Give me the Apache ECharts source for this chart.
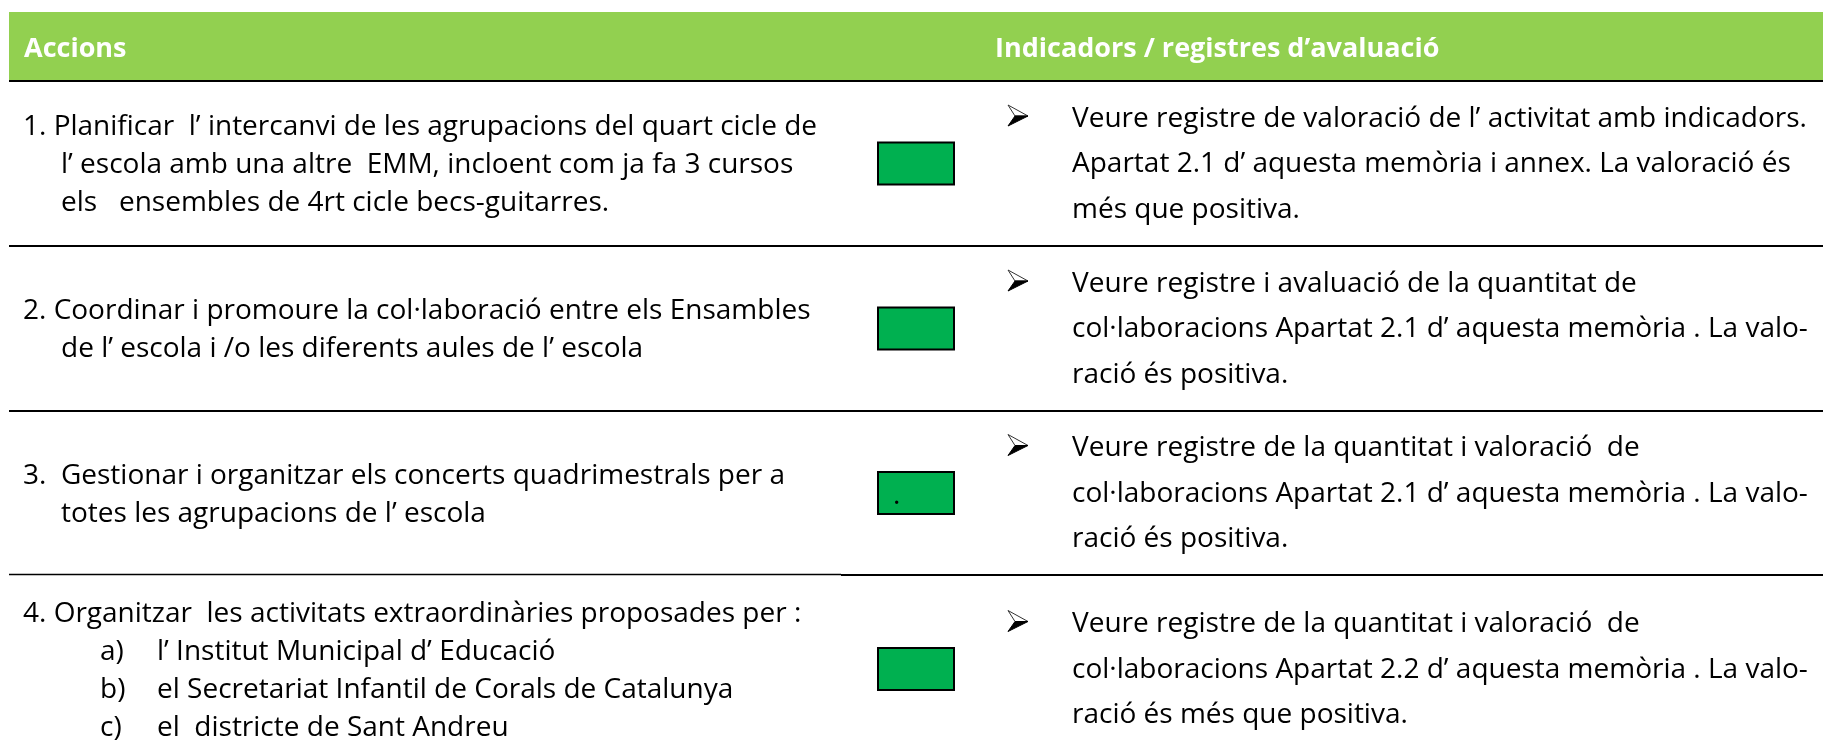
<!DOCTYPE html>
<html>
<head>
<meta charset="utf-8">
<script src="https://cdn.jsdelivr.net/npm/echarts@6/dist/echarts.min.js"></script>
<style>
html,body{margin:0;padding:0;background:#ffffff;}
#chart{width:1823px;height:743px;}
</style>
</head>
<body>
<div id="chart"></div>
<script>
// ---------- data ----------
const headers = ['Accions', 'Indicadors / registres d’avaluació'];

const actionLines = [
  ['1. Planificar  l’ intercanvi de les agrupacions del quart cicle de',
   'l’ escola amb una altre  EMM, incloent com ja fa 3 cursos',
   'els   ensembles de 4rt cicle becs-guitarres.'],
  ['2. Coordinar i promoure la col·laboració entre els Ensambles',
   'de l’ escola i /o les diferents aules de l’ escola'],
  ['3.  Gestionar i organitzar els concerts quadrimestrals per a',
   'totes les agrupacions de l’ escola'],
  ['4. Organitzar  les activitats extraordinàries proposades per :']
];

const actionSubItems = [
  [],
  [],
  [],
  [['a)', 'l’ Institut Municipal d’ Educació'],
   ['b)', 'el Secretariat Infantil de Corals de Catalunya'],
   ['c)', 'el  districte de Sant Andreu']]
];

const indicatorLines = [
  ['Veure registre de valoració de l’ activitat amb indicadors.',
   'Apartat 2.1 d’ aquesta memòria i annex. La valoració és',
   'més que positiva.'],
  ['Veure registre i avaluació de la quantitat de',
   'col·laboracions Apartat 2.1 d’ aquesta memòria . La valo-',
   'ració és positiva.'],
  ['Veure registre de la quantitat i valoració  de',
   'col·laboracions Apartat 2.1 d’ aquesta memòria . La valo-',
   'ració és positiva.'],
  ['Veure registre de la quantitat i valoració  de',
   'col·laboracions Apartat 2.2 d’ aquesta memòria . La valo-',
   'ració és més que positiva.']
];

const statusValues = ['assolit', 'assolit', 'assolit', 'assolit'];
const statusNotes = ['', '', '.', ''];

// ---------- layout (in axis units) ----------
const W = 1823, H = 743;
const HEADER_TOP = 12, HEADER_BOTTOM = 81;
const ROW_EDGES = [81, 246, 411, 575, 763];
const TABLE_LEFT = 9, COL_SPLIT = 841, TABLE_RIGHT = 1823;
const HEAD_X = [24, 995];
const LEFT_X = 23, HANG_X = 61, SUB_LABEL_X = 100, SUB_TEXT_X = 157;
const BOX_X = 878, BOX_W = 76, BOX_H = 42;
const ARROW_X = 1008, IND_X = 1072;
const L_SPACING = 38, R_SPACING = 45.5;
const L_BASE_OFF = 10, R_BASE_OFF = 9;
const BASE_TO_MID = 8;
const FONT = 'Open Sans';
const FS = 28;

const HEADER_GREEN = '#92D050';
const BOX_GREEN = '#00B050';

function textEl(t, p, opts) {
  opts = opts || {};
  return {
    type: 'text',
    style: {
      text: t, x: p[0], y: p[1],
      fill: opts.fill || '#000000',
      fontFamily: FONT,
      fontSize: opts.fontSize || FS,
      fontWeight: opts.fontWeight || 'normal',
      align: 'left',
      verticalAlign: 'middle'
    }
  };
}

function lineEl(a, b, w) {
  return {
    type: 'line',
    shape: {x1: a[0], y1: a[1], x2: b[0], y2: b[1]},
    style: {stroke: '#000000', lineWidth: w}
  };
}

function renderHeader(params, api) {
  const i = api.value(0);
  const x0 = i === 0 ? TABLE_LEFT : COL_SPLIT;
  const x1 = i === 0 ? COL_SPLIT : TABLE_RIGHT;
  const p0 = api.coord([x0, HEADER_TOP]);
  const p1 = api.coord([x1, HEADER_BOTTOM]);
  return {
    type: 'group',
    children: [
      {type: 'rect', shape: {x: p0[0], y: p0[1], width: p1[0] - p0[0], height: p1[1] - p0[1]},
       style: {fill: HEADER_GREEN}},
      lineEl(api.coord([x0, HEADER_BOTTOM]), api.coord([x1, HEADER_BOTTOM]), 2),
      textEl(headers[i], api.coord([HEAD_X[i], 57 - 8]),
             {fill: '#ffffff', fontWeight: 'bold', fontSize: 27})
    ]
  };
}

function renderActions(params, api) {
  const r = api.value(0);
  const top = ROW_EDGES[r], bottom = ROW_EDGES[r + 1];
  const c = (top + bottom) / 2;
  const lines = actionLines[r], subs = actionSubItems[r];
  const n = lines.length + subs.length;
  const base0 = c + L_BASE_OFF - (n - 1) / 2 * L_SPACING;
  const children = [];
  lines.forEach(function (t, i) {
    const y = base0 + i * L_SPACING - BASE_TO_MID;
    children.push(textEl(t, api.coord([i === 0 ? LEFT_X : HANG_X, y])));
  });
  subs.forEach(function (s, j) {
    const y = base0 + (lines.length + j) * L_SPACING - BASE_TO_MID;
    children.push(textEl(s[0], api.coord([SUB_LABEL_X, y])));
    children.push(textEl(s[1], api.coord([SUB_TEXT_X, y])));
  });
  if (r < actionLines.length - 1) {
    const yy = r === actionLines.length - 2 ? bottom - 0.5 : bottom;
    children.push(lineEl(api.coord([TABLE_LEFT, yy]), api.coord([COL_SPLIT, yy]),
                         r === actionLines.length - 2 ? 1.5 : 2));
  }
  return {type: 'group', children: children};
}

function renderStatus(params, api) {
  const r = api.value(0);
  const c = (ROW_EDGES[r] + ROW_EDGES[r + 1]) / 2;
  const p0 = api.coord([BOX_X, c - BOX_H / 2]);
  const p1 = api.coord([BOX_X + BOX_W, c + BOX_H / 2]);
  const children = [
    {type: 'rect', shape: {x: p0[0], y: p0[1], width: p1[0] - p0[0], height: p1[1] - p0[1]},
     style: {fill: statusValues[r] === 'assolit' ? BOX_GREEN : '#ffffff', stroke: '#000000', lineWidth: 2}}
  ];
  if (statusNotes[r]) {
    children.push(textEl(statusNotes[r], api.coord([BOX_X + 15, c + 11 - BASE_TO_MID])));
  }
  return {type: 'group', children: children};
}

function renderIndicators(params, api) {
  const r = api.value(0);
  const top = ROW_EDGES[r], bottom = ROW_EDGES[r + 1];
  const c = (top + bottom) / 2;
  const lines = indicatorLines[r];
  const n = lines.length;
  const base0 = c + R_BASE_OFF - (n - 1) / 2 * R_SPACING;
  const children = [];
  // arrow bullet
  const a0 = api.coord([ARROW_X, base0 - 22]);
  const tip = api.coord([ARROW_X + 20, base0 - 11]);
  const notch = api.coord([ARROW_X + 7, base0 - 11]);
  const a1 = api.coord([ARROW_X, base0 - 1]);
  children.push({type: 'polygon', shape: {points: [a0, tip, notch]},
                 style: {fill: '#ffffff', stroke: '#333333', lineWidth: 1}});
  children.push({type: 'polygon', shape: {points: [notch, tip, a1]},
                 style: {fill: '#000000', stroke: '#000000', lineWidth: 1}});
  lines.forEach(function (t, i) {
    const y = base0 + i * R_SPACING - BASE_TO_MID;
    children.push(textEl(t, api.coord([IND_X, y])));
  });
  if (r < indicatorLines.length - 1) {
    children.push(lineEl(api.coord([COL_SPLIT, bottom]), api.coord([TABLE_RIGHT, bottom]), 2));
  }
  return {type: 'group', children: children};
}

const chart = echarts.init(document.getElementById('chart'), null, {renderer: 'canvas'});
chart.setOption({
  animation: false,
  backgroundColor: '#ffffff',
  grid: {left: 0, right: 0, top: 0, bottom: 0, containLabel: false},
  xAxis: {type: 'value', min: 0, max: W, show: false},
  yAxis: {type: 'value', min: 0, max: H, inverse: true, show: false},
  series: [
    {type: 'custom', name: 'header', renderItem: renderHeader, silent: true,
     data: headers.map(function (h, i) { return [i]; })},
    {type: 'custom', name: 'accions', renderItem: renderActions, silent: true,
     data: actionLines.map(function (l, i) { return [i]; })},
    {type: 'custom', name: 'estat', renderItem: renderStatus, silent: true,
     data: statusValues.map(function (s, i) { return [i]; })},
    {type: 'custom', name: 'indicadors', renderItem: renderIndicators, silent: true,
     data: indicatorLines.map(function (l, i) { return [i]; })}
  ]
});
</script>
</body>
</html>
